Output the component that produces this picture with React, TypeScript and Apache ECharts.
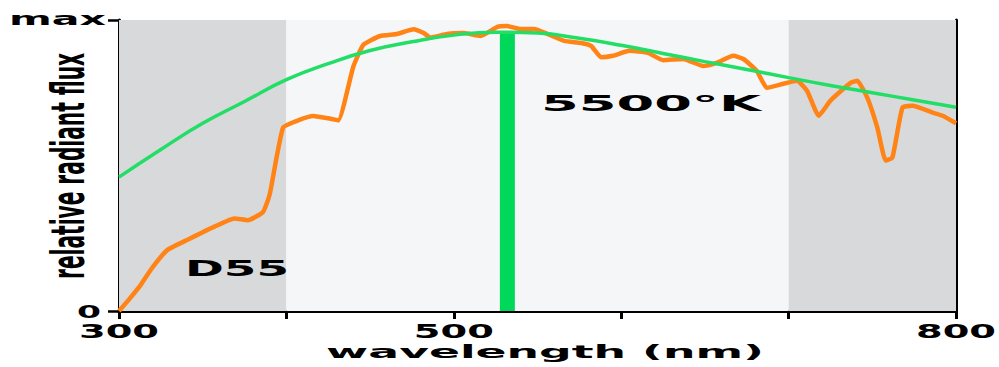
import React, { useEffect, useRef } from "react";
import * as echarts from "echarts";

// D55 illuminant (orange), relative flux
const d55Wavelength = [300, 306, 313, 320, 329, 341, 357, 369, 377, 386, 390, 398, 407, 416, 427, 431, 440, 446, 456, 466, 476, 482, 486, 496, 506, 516, 526, 532, 540, 548, 556, 566, 576, 582, 588, 595, 605, 616, 625, 637, 649, 657, 667, 673, 681, 687, 697, 705, 711, 718, 725, 737, 741, 747, 753, 758, 762, 768, 774, 786, 792, 800];
const d55Flux = [0.0, 0.04, 0.09, 0.15, 0.21, 0.245, 0.29, 0.318, 0.312, 0.34, 0.40, 0.63, 0.655, 0.67, 0.66, 0.655, 0.84, 0.915, 0.945, 0.952, 0.968, 0.955, 0.94, 0.952, 0.955, 0.945, 0.976, 0.979, 0.969, 0.969, 0.952, 0.928, 0.921, 0.911, 0.872, 0.877, 0.894, 0.887, 0.862, 0.866, 0.842, 0.853, 0.877, 0.866, 0.825, 0.767, 0.781, 0.791, 0.757, 0.671, 0.723, 0.784, 0.791, 0.733, 0.630, 0.517, 0.527, 0.699, 0.705, 0.682, 0.671, 0.645];

// 5500 K black body (green)
const bbWavelength = [300, 325, 350, 375, 400, 425, 450, 475, 500, 525, 550, 575, 600, 625, 650, 675, 700, 725, 750, 775, 800];
const bbFlux = [0.46, 0.555, 0.645, 0.72, 0.795, 0.85, 0.895, 0.925, 0.948, 0.958, 0.955, 0.937, 0.913, 0.885, 0.857, 0.83, 0.802, 0.775, 0.75, 0.725, 0.70];

// Peak marker bar
const peakWavelength = [532];
const peakFlux = [0.957];

// Spectral bands: UV, visible, IR
const bandStart = [300, 400, 700];
const bandEnd = [400, 700, 800];
const bandKind = ["dark", "light", "dark"];

// Tick labels
const xTickValues = [300, 500, 800];
const yTickValues = [0, 1];
const yTickLabels = ["0", "max"];

const xName = "wavelength (nm)";
const yName = "relative radiant flux";
const bbLabel = "5500\u00b0K";
const d55Label = "D55";

const FONT_FAMILY = "'DejaVu Sans', sans-serif";

function measure(text: string, size: number): number {
  const c = document.createElement("canvas");
  const ctx = c.getContext("2d");
  if (!ctx) return text.length * size * 0.6;
  ctx.font = `bold ${size}px ${FONT_FAMILY}`;
  return ctx.measureText(text).width;
}

function stretchedText(
  text: string,
  x: number,
  y: number,
  size: number,
  targetWidth: number,
  align: string,
  rotation = 0
) {
  const w = measure(text, size);
  return {
    type: "text",
    x,
    y,
    rotation,
    scaleX: targetWidth / w,
    silent: true,
    z: 100,
    style: {
      text,
      fill: "#000",
      font: `bold ${size}px ${FONT_FAMILY}`,
      align,
      textAlign: align,
      verticalAlign: "middle",
      textVerticalAlign: "middle",
    },
  };
}

export default function App() {
  const ref = useRef<HTMLDivElement>(null);

  useEffect(() => {
    document.body.style.margin = "0";
    if (!ref.current) return;
    const chart = echarts.init(ref.current, null, { renderer: "svg" });

    const axisLineStyle = { color: "#000", width: 3 };
    const bandColors: Record<string, string> = { dark: "#d8d9db", light: "#f5f6f8" };

    chart.setOption({
      animation: false,
      grid: { left: 119, right: 43, top: 20, bottom: 56, containLabel: false },
      xAxis: [
        {
          type: "value",
          min: 300,
          max: 800,
          interval: 100,
          axisLine: { show: true, lineStyle: axisLineStyle },
          axisTick: { show: true, length: 8, lineStyle: { color: "#000", width: 3 } },
          axisLabel: { show: false },
          splitLine: { show: false },
        },
        {
          type: "value",
          position: "top",
          min: 300,
          max: 800,
          axisLine: { show: true, lineStyle: axisLineStyle },
          axisTick: { show: false },
          axisLabel: { show: false },
          splitLine: { show: false },
        },
      ],
      yAxis: [
        {
          type: "value",
          min: 0,
          max: 1,
          interval: 1,
          axisLine: { show: true, lineStyle: axisLineStyle },
          axisTick: { show: true, length: 11, lineStyle: { color: "#000", width: 2.5 } },
          axisLabel: { show: false },
          splitLine: { show: false },
        },
        {
          type: "value",
          position: "right",
          min: 0,
          max: 1,
          axisLine: { show: true, lineStyle: axisLineStyle },
          axisTick: { show: false },
          axisLabel: { show: false },
          splitLine: { show: false },
        },
      ],
      series: [
        {
          name: "D55",
          type: "line",
          data: d55Wavelength.map((w, i) => [w, d55Flux[i]]),
          symbol: "none",
          smooth: 0.15,
          lineStyle: { color: "#ff8415", width: 4.5 },
          z: 2,
          markArea: {
            silent: true,
            data: bandStart.map((s, i) => [
              { xAxis: s, itemStyle: { color: bandColors[bandKind[i]] } },
              { xAxis: bandEnd[i] },
            ]),
          },
        },
        {
          name: "peak",
          type: "bar",
          data: peakWavelength.map((w, i) => [w, peakFlux[i]]),
          barWidth: 15,
          itemStyle: { color: "#00d85a" },
          z: 3,
        },
        {
          name: "5500K",
          type: "line",
          data: bbWavelength.map((w, i) => [w, bbFlux[i]]),
          symbol: "none",
          smooth: true,
          lineStyle: { color: "#22de66", width: 3.5 },
          z: 4,
        },
      ],
    });

    const xp = (v: number) => chart.convertToPixel({ xAxisIndex: 0 }, v) as number;
    const yp = (v: number) => chart.convertToPixel({ yAxisIndex: 0 }, v) as number;

    const elements: any[] = [];
    xTickValues.forEach((v) => {
      elements.push(stretchedText(String(v), xp(v), 331, 20, 80, "center"));
    });
    yTickValues.forEach((v, i) => {
      const label = yTickLabels[i];
      if (label === "max") {
        elements.push(stretchedText(label, 106, yp(v) - 1, 18, 97, "right"));
      } else {
        elements.push(stretchedText(label, 101, yp(v), 18, 24, "right"));
      }
    });
    elements.push(stretchedText(xName, 545, 352, 18, 438, "center"));
    elements.push(stretchedText(yName, 68, 166, 46, 226, "center", Math.PI / 2));
    elements.push(stretchedText(bbLabel, 651, 104, 22, 220, "center"));
    elements.push(stretchedText(d55Label, 237, 268, 22, 104, "center"));

    chart.setOption({ graphic: { elements } });

    return () => chart.dispose();
  }, []);

  return (
    <div
      ref={ref}
      style={{ position: "fixed", left: 0, top: 0, width: 999, height: 367, background: "#fff" }}
    />
  );
}
